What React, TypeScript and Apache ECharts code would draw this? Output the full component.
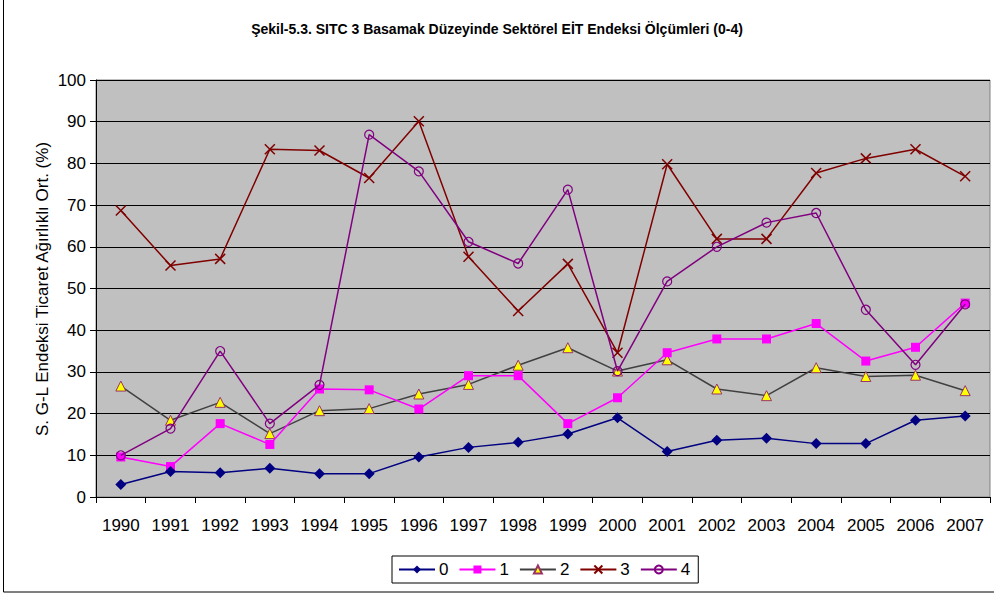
import React, { useEffect, useRef } from "react";
import * as echarts from "echarts";

const years = ["1990","1991","1992","1993","1994","1995","1996","1997","1998","1999","2000","2001","2002","2003","2004","2005","2006","2007"];
const s0 = [3.0, 6.1, 5.8, 6.9, 5.6, 5.6, 9.6, 11.9, 13.1, 15.1, 19.0, 10.9, 13.6, 14.1, 12.8, 12.8, 18.4, 19.4];
const s1 = [9.6, 7.3, 17.6, 12.6, 25.9, 25.7, 21.1, 29.1, 29.1, 17.6, 23.8, 34.6, 37.9, 37.9, 41.6, 32.6, 35.9, 46.5];
const s2 = [26.6, 18.4, 22.7, 15.2, 20.7, 21.2, 24.7, 27.0, 31.6, 35.8, 30.2, 32.9, 25.9, 24.3, 31.0, 28.9, 29.2, 25.5];
const s3 = [68.7, 55.5, 57.1, 83.4, 83.1, 76.5, 90.1, 57.6, 44.6, 55.9, 34.6, 79.8, 61.9, 61.9, 77.7, 81.2, 83.4, 76.9];
const s4 = [10.0, 16.4, 35.0, 17.6, 26.9, 86.9, 78.1, 61.2, 56.0, 73.7, 30.2, 51.7, 60.0, 65.8, 68.1, 44.9, 31.7, 46.2];
const seriesNames = ["0", "1", "2", "3", "4"];

const TITLE = "Şekil-5.3. SITC 3 Basamak Düzeyinde Sektörel EİT Endeksi Ölçümleri (0-4)";
const YNAME = "S. G-L Endeksi Ticaret Ağırlıklı Ort. (%)";
const FONT = "Liberation Sans, Arial, sans-serif";

export default function App() {
  const ref = useRef<HTMLDivElement>(null);
  useEffect(() => {
    if (!ref.current) return;
    const chart = echarts.init(ref.current, undefined, { renderer: "svg" });
    const cross = "path://M0,0L10,10M10,0L0,10";
    chart.setOption({
      animation: false,
      backgroundColor: "#ffffff",
      textStyle: { fontFamily: FONT },
      title: {
        text: TITLE,
        left: "center",
        top: 17,
        textStyle: { fontFamily: FONT, fontSize: 14, fontWeight: "bold", color: "#000" },
      },
      graphic: [
        {
          type: "rect",
          shape: { x: 3.5, y: -5, width: 1100, height: 597 },
          style: { fill: "none", stroke: "#000", lineWidth: 1 },
          silent: true,
        },
        {
          type: "text",
          x: 42,
          y: 289,
          rotation: Math.PI / 2,
          style: {
            text: YNAME,
            fontFamily: FONT,
            fontSize: 17,
            fill: "#000",
            textAlign: "center",
            textVerticalAlign: "middle",
          },
        },
      ],
      legend: {
        left: 392,
        top: 556,
        orient: "horizontal",
        data: seriesNames,
        itemWidth: 36,
        itemHeight: 10,
        itemGap: 10,
        padding: [5, 8, 5, 6],
        borderColor: "#000",
        borderWidth: 1,
        textStyle: { fontFamily: FONT, fontSize: 17, color: "#000", padding: [0, 0, 0, -1] },
      },
      grid: {
        left: 96,
        right: 4,
        top: 80,
        bottom: 98,
        show: true,
        backgroundColor: "#C0C0C0",
        borderColor: "#808080",
        borderWidth: 1,
      },
      xAxis: {
        type: "category",
        data: years,
        boundaryGap: true,
        axisLine: { show: true, lineStyle: { color: "#000", width: 1 } },
        axisTick: { show: true, alignWithLabel: false, interval: 0, length: 6, lineStyle: { color: "#000" } },
        axisLabel: { interval: 0, fontFamily: FONT, fontSize: 17, color: "#000", margin: 20 },
        splitLine: { show: false },
      },
      yAxis: {
        type: "value",
        min: 0,
        max: 100,
        interval: 10,
        axisLine: { show: true, lineStyle: { color: "#000", width: 1 } },
        axisTick: { show: true, length: 6, lineStyle: { color: "#000" } },
        axisLabel: { fontFamily: FONT, fontSize: 17, color: "#000", margin: 10 },
        splitLine: { show: true, lineStyle: { color: "#000", width: 1 } },
      },
      series: [
        {
          name: "0",
          type: "line",
          data: s0,
          symbol: "diamond",
          symbolSize: 11,
          itemStyle: { color: "#000080" },
          lineStyle: { color: "#000080", width: 1.5 },
          z: 5,
        },
        {
          name: "1",
          type: "line",
          data: s1,
          symbol: "rect",
          symbolSize: 9,
          itemStyle: { color: "#FF00FF" },
          lineStyle: { color: "#FF00FF", width: 1.5 },
          z: 4,
        },
        {
          name: "2",
          type: "line",
          data: s2,
          symbol: "triangle",
          symbolSize: 10,
          itemStyle: { color: "#FFFF00", borderColor: "#993366", borderWidth: 1 },
          lineStyle: { color: "#404040", width: 1.5 },
          z: 3,
        },
        {
          name: "3",
          type: "line",
          data: s3,
          symbol: cross,
          symbolSize: 10,
          itemStyle: { color: "none", borderColor: "#800000", borderWidth: 1.5 },
          lineStyle: { color: "#800000", width: 1.5 },
          z: 2,
        },
        {
          name: "4",
          type: "line",
          data: s4,
          symbol: "circle",
          symbolSize: 9,
          itemStyle: { color: "rgba(0,0,0,0)", borderColor: "#800080", borderWidth: 1.2 },
          lineStyle: { color: "#800080", width: 1.5 },
          z: 6,
        },
      ],
    });
    return () => chart.dispose();
  }, []);
  return (
    <div
      ref={ref}
      style={{ position: "fixed", left: 0, top: 0, width: 994, height: 595 }}
    />
  );
}
